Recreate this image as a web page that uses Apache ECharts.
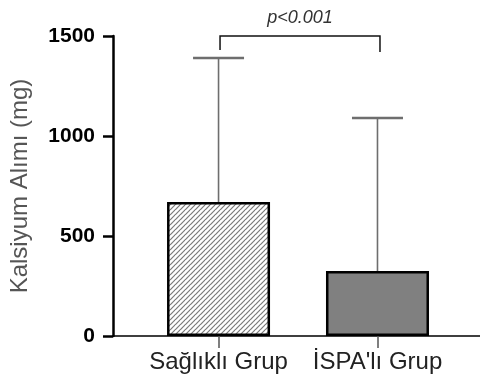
<!DOCTYPE html>
<html>
<head>
<meta charset="utf-8">
<script src="https://cdn.jsdelivr.net/npm/echarts@6/dist/echarts.min.js"></script>
<style>
  html, body { margin: 0; padding: 0; background: #fff; }
  #main { width: 480px; height: 378px; }
</style>
</head>
<body>
<div id="main"></div>
<script>
// data
const groups = ['Sağlıklı Grup', "İSPA'lı Grup"];
const groupPos = [0, 1];
const means = [670, 325];
const upperSD = [1390, 1090];
const yTicks = [0, 500, 1000, 1500];
const sigPair = [0, 1];
const sigLevel = 1500;
const sigText = 'p<0.001';

const FONT = 'Liberation Sans, Arial, sans-serif';

// diagonal hatch for the first bar
const tile = document.createElement('canvas');
tile.width = 5; tile.height = 5;
const tc = tile.getContext('2d');
tc.fillStyle = '#fff';
tc.fillRect(0, 0, 5, 5);
tc.strokeStyle = '#7a7a7a';
tc.lineWidth = 1.2;
[[-5, 5], [0, 5], [5, 5], [0, 10]].forEach(function(l) {
  tc.beginPath();
  tc.moveTo(l[0], l[1]); tc.lineTo(l[0] + 5, l[1] - 5);
  tc.stroke();
});

const chart = echarts.init(document.getElementById('main'));

const barData = groupPos.map(function(p, i) {
  return {
    value: [p, means[i]],
    itemStyle: i === 0
      ? { color: { image: tile, repeat: 'repeat' }, borderColor: '#000', borderWidth: 2.5 }
      : { color: '#808080', borderColor: '#000', borderWidth: 2.5 }
  };
});

chart.setOption({
  animation: false,
  grid: { left: 113, right: 0, top: 36, bottom: 42, containLabel: false, outerBoundsMode: 'none' },
  xAxis: {
    type: 'value',
    min: -0.664,
    max: 1.645,
    splitLine: { show: false },
    axisLine: { show: true, onZero: false, lineStyle: { color: '#000', width: 1.6 } },
    axisTick: {
      show: true, customValues: groupPos, length: 12,
      lineStyle: { color: '#555', width: 1.5 }
    },
    axisLabel: {
      customValues: groupPos,
      margin: 14,
      color: '#222',
      fontFamily: FONT,
      fontSize: 24,
      formatter: function(v) { return groups[Math.round(v)]; }
    }
  },
  yAxis: {
    type: 'value',
    min: 0,
    max: 1500,
    interval: 500,
    name: 'Kalsiyum Alımı (mg)',
    nameLocation: 'middle',
    nameGap: 81,
    nameTextStyle: { color: '#555', fontFamily: FONT, fontSize: 24 },
    splitLine: { show: false },
    axisLine: { show: true, onZero: false, lineStyle: { color: '#000', width: 2.5 } },
    axisTick: { show: true, length: 10, lineStyle: { color: '#000', width: 2.5 } },
    axisLabel: {
      margin: 18,
      color: '#000',
      fontWeight: 'bold',
      fontFamily: FONT,
      fontSize: 21,
      formatter: function(v) { return yTicks.indexOf(v) >= 0 ? String(v) : ''; }
    }
  },
  series: [
    {
      type: 'custom',
      z: 1,
      data: groupPos.map(function(p, i) { return [p, means[i], upperSD[i]]; }),
      renderItem: function(params, api) {
        const lo = api.coord([api.value(0), api.value(1)]);
        const hi = api.coord([api.value(0), api.value(2)]);
        const half = 25.5;
        return {
          type: 'group',
          children: [
            { type: 'line', shape: { x1: lo[0], y1: lo[1], x2: hi[0], y2: hi[1] },
              style: { stroke: '#6e6e6e', lineWidth: 1.6 } },
            { type: 'line', shape: { x1: hi[0] - half, y1: hi[1], x2: hi[0] + half, y2: hi[1] },
              style: { stroke: '#6e6e6e', lineWidth: 2.5 } }
          ]
        };
      }
    },
    {
      type: 'bar',
      z: 2,
      barWidth: 103,
      data: barData
    },
    {
      type: 'custom',
      z: 3,
      clip: false,
      data: [[sigPair[0], sigPair[1], sigLevel]],
      renderItem: function(params, api) {
        const a = api.coord([api.value(0), api.value(2)]);
        const b = api.coord([api.value(1), api.value(2)]);
        const ax = a[0] + 1.5, bx = b[0] + 2.5, y = a[1];
        return {
          type: 'group',
          children: [
            { type: 'polyline', shape: { points: [[ax, y + 14], [ax, y], [bx, y], [bx, y + 16]] },
              style: { stroke: '#111', lineWidth: 1.5, fill: null } },
            { type: 'text', x: (ax + bx) / 2, y: y - 9,
              style: { text: sigText, fontFamily: FONT, fontStyle: 'italic', fontSize: 18,
                       fill: '#333', align: 'center', verticalAlign: 'bottom' } }
          ]
        };
      }
    }
  ]
});
</script>
</body>
</html>
